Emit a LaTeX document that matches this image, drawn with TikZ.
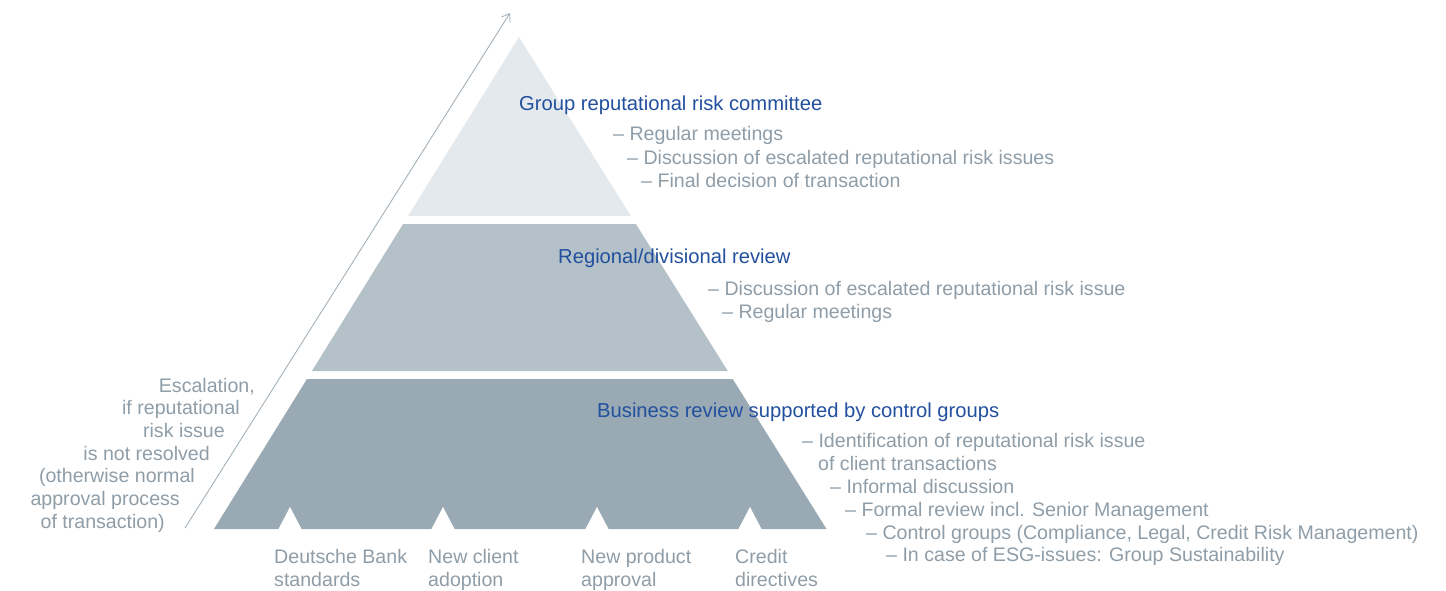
\documentclass[tikz,border=0pt]{standalone}
\usepackage{fontspec}
\setmainfont{Liberation Sans}
\usetikzlibrary{arrows.meta}

\definecolor{dbblue}{HTML}{22509E}
\definecolor{dbgray}{HTML}{8E9DA8}
\definecolor{lineg}{HTML}{A3B1BA}
\definecolor{layA}{HTML}{E4E9ED}
\definecolor{layB}{HTML}{B4C1C9}
\definecolor{layC}{HTML}{9AAAB4}

\begin{document}
\begin{tikzpicture}[x=1pt,y=-1pt,
  every node/.style={inner sep=0pt,font=\fontsize{19.6}{23}\selectfont},
  head/.style={anchor=base west,text=dbblue,font=\fontsize{20.2}{23}\selectfont},
  item/.style={anchor=base west,text=dbgray},
  esc/.style={anchor=base east,text=dbgray},
  foot/.style={anchor=north west,text=dbgray,align=left}]
\useasboundingbox (0,0) rectangle (1446,590);

\newcommand{\pyrlayer}[3] % [fill][top y][bottom y]
{
 \fill[#1] ({\ax-\sl*(#2-\ay)},#2) -- ({\ax+\sr*(#2-\ay)},#2)
   -- ({\ax+\sr*(#3-\ay)},#3) -- ({\ax-\sl*(#3-\ay)},#3) -- cycle;
}

\def\ax {519} \def\ay {37}
\def\sl {0.62} \def\sr {0.625}

\pyrlayer{layA}{37}{216}
\pyrlayer{layB}{224}{371}
\pyrlayer{layC}{379}{529}
\foreach \n in {290,443,597,750}
 \fill[white] (\n-12,530) -- (\n,507) -- (\n+12,530) -- cycle;

\coordinate (e0) at (185,528);
\coordinate (e1) at (510,13);
\draw[lineg,line width=0.9pt,-{Straight Barb[length=7pt,width=10pt]}] (e0) -- (e1);

\node[head] (gr) at (519,110) {Group reputational risk committee};
\node[item] (gr1) at (613,140) {– Regular meetings};
\node[item] (gr2) at (627,164) {– Discussion of escalated reputational risk issues};
\node[item] (gr3) at (641,187) {– Final decision of transaction};

\node[head] (rd) at (558,263) {Regional/divisional review};
\node[item] (rd1) at (708,295) {– Discussion of escalated reputational risk issue};
\node[item] (rd2) at (722,318) {– Regular meetings};

\node[head] (br) at (597,417) {Business review supported by control groups};
\node[item] (br1) at (802,447) {– Identification of reputational risk issue};
\node[item] (br1b) at (818,470) {of client transactions};
\node[item] (br2) at (830,493) {– Informal discussion};
\node[item] (br3) at (845,516) {– Formal review incl. Senior Management};
\node[item] (br4) at (866,539) {– Control groups (Compliance, Legal, Credit Risk Management)};
\node[item] (br5) at (886,561) {– In case of ESG-issues: Group Sustainability};

\foreach \i/\t in {0/{Escalation,},1/if reputational,2/risk issue,3/is not resolved,
  4/(otherwise normal,5/approval process,6/of transaction)}
 \node[esc] (x\i) at ({255-15*\i},{392+22.7*\i}) {\t};

\node[foot] (s1) at (274,549) {Deutsche Bank\\standards};
\node[foot] (s2) at (428,549) {New client\\adoption};
\node[foot] (s3) at (581,549) {New product\\approval};
\node[foot] (s4) at (735,549) {Credit\\directives};

\end{tikzpicture}
\end{document}
